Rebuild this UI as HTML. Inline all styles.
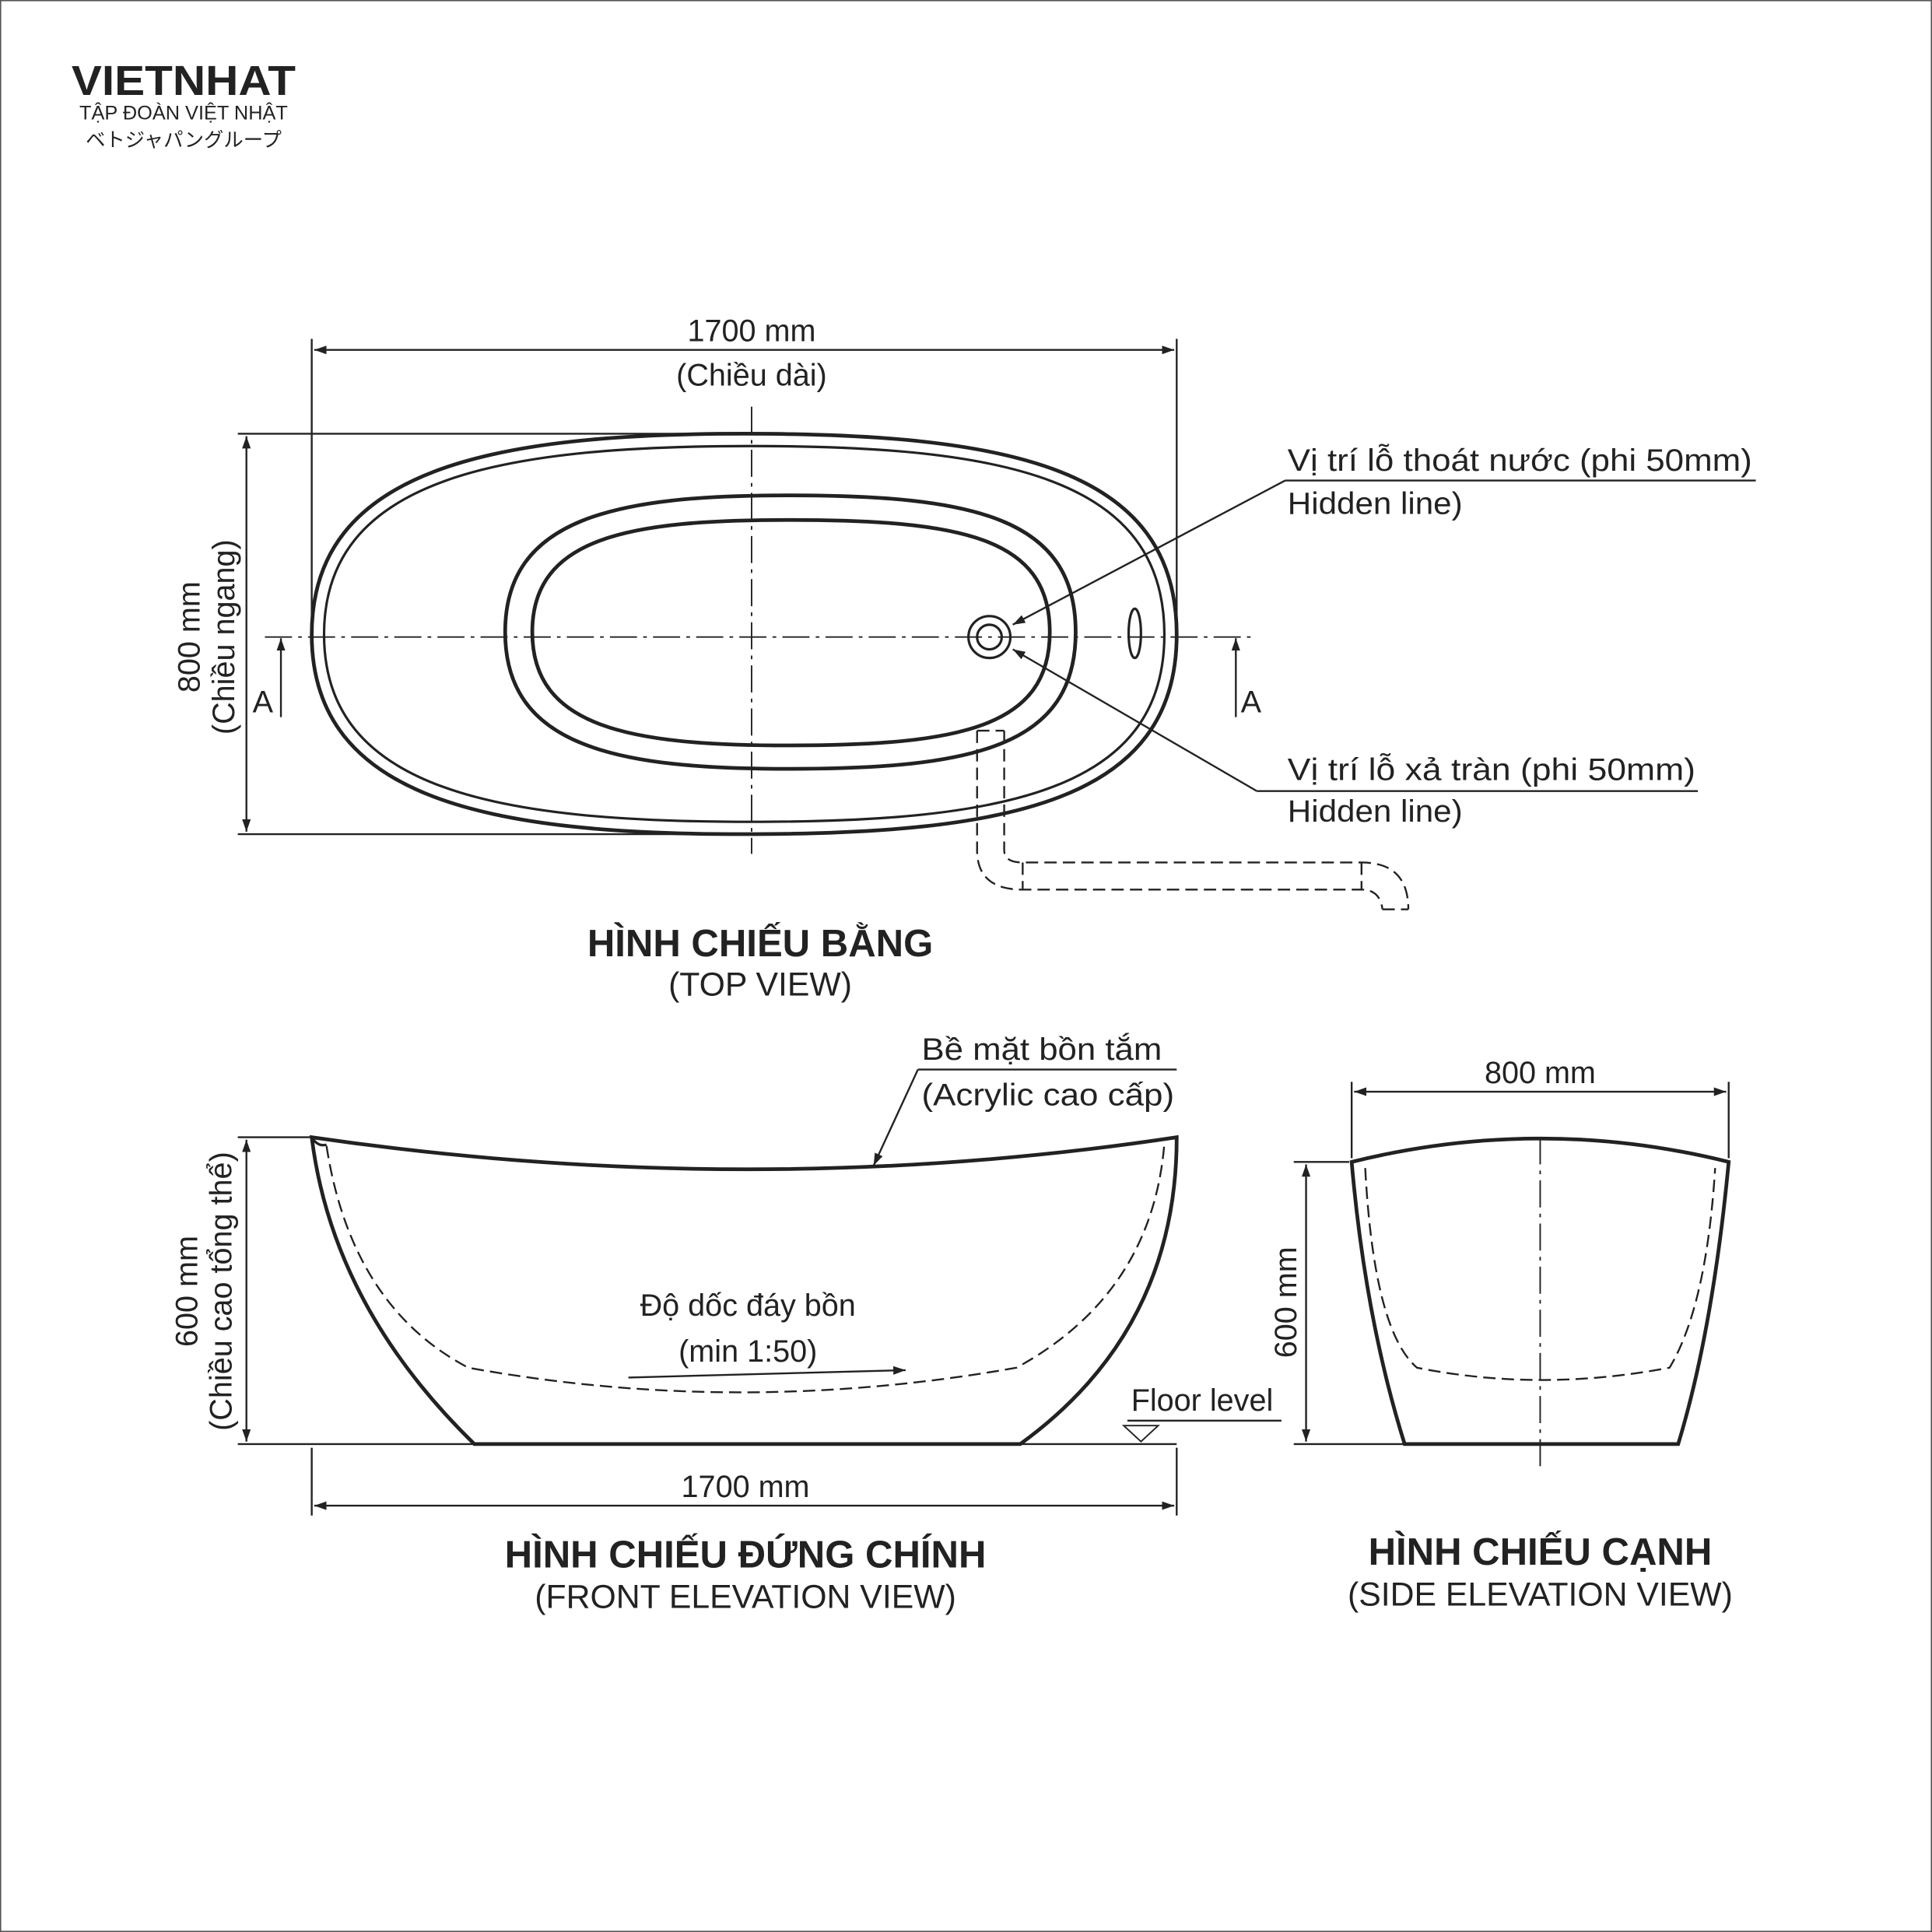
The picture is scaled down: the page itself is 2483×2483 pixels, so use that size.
<!DOCTYPE html>
<html><head><meta charset="utf-8"><style>
html,body{margin:0;padding:0;background:#fff}
svg{display:block}
text{font-family:"Liberation Sans Narrow","Liberation Sans","Noto Sans CJK JP",sans-serif;fill:#222}
</style></head><body>
<svg width="2483" height="2483" viewBox="0 0 1568 1568" xmlns="http://www.w3.org/2000/svg">
<defs>
<marker id="ar" viewBox="0 0 10 10" refX="10" refY="5" markerWidth="10" markerHeight="10" orient="auto-start-reverse" markerUnits="userSpaceOnUse"><path d="M0,1.5 L10,5 L0,8.5 z" fill="#222"/></marker>
</defs>
<rect x="0.5" y="0.5" width="1567" height="1567" fill="#fff" stroke="#555" stroke-width="1"/>
<!-- logo -->
<text x="58" y="77" font-weight="bold" font-size="34" style="font-family:'Liberation Sans',sans-serif" textLength="182" lengthAdjust="spacingAndGlyphs">VIETNHAT</text>
<text x="149" y="97" font-size="16" text-anchor="middle" style="font-family:'Liberation Sans',sans-serif">TẬP ĐOÀN VIỆT NHẬT</text>
<text x="149" y="119" font-size="16" text-anchor="middle" style="font-family:'Liberation Sans','Noto Sans CJK JP',sans-serif">ベトジャパングループ</text>

<g stroke="#222" fill="none" stroke-width="1.5">
<!-- TOP VIEW -->
<line x1="253" y1="275" x2="253" y2="520"/><line x1="955" y1="275" x2="955" y2="520"/>
<line x1="255" y1="284" x2="953" y2="284" marker-start="url(#ar)" marker-end="url(#ar)"/>
<line x1="193" y1="352" x2="610" y2="352"/><line x1="193" y1="677" x2="610" y2="677"/>
<line x1="200" y1="354" x2="200" y2="675" marker-start="url(#ar)" marker-end="url(#ar)"/>
<path d="M604,352 C820,352 955,380 955,515 C955,650 820,677 604,677 C400,677 253,650 253,515 C253,380 400,352 604,352 Z" stroke-width="3"/>
<path d="M610,362 C815,362 945,388 945,515 C945,642 815,667 610,667 C405,667 263,642 263,515 C263,388 405,362 610,362 Z" stroke-width="2"/>
<path d="M640,402 C790,402 873,420 873,513 C873,606 790,624 640,624 C500,624 410,606 410,513 C410,420 500,402 640,402 Z" stroke-width="3"/>
<path d="M640,422 C780,422 852,436 852,513 C852,590 780,605 640,605 C510,605 432,590 432,513 C432,436 510,422 640,422 Z" stroke-width="3"/>
<line x1="215" y1="517" x2="1015" y2="517" stroke-dasharray="22,5,3,5" stroke-width="1.2"/>
<line x1="610" y1="330" x2="610" y2="693" stroke-dasharray="22,5,3,5" stroke-width="1.2"/>
<circle cx="803" cy="517" r="17" stroke-width="2"/><circle cx="803" cy="517" r="10" stroke-width="2"/>
<ellipse cx="921" cy="514" rx="5" ry="20" stroke-width="2"/>
<line x1="228" y1="582" x2="228" y2="518" marker-end="url(#ar)"/>
<line x1="1003" y1="582" x2="1003" y2="518" marker-end="url(#ar)"/>
<line x1="1043" y1="390" x2="822" y2="507" marker-end="url(#ar)"/><line x1="1043" y1="390" x2="1425" y2="390"/>
<line x1="1020" y1="642" x2="822" y2="527" marker-end="url(#ar)"/><line x1="1020" y1="642" x2="1378" y2="642"/>
<g stroke-dasharray="10,5" stroke-width="1.5">
<path d="M793,593 L793,690 Q793,722 830,722 L1105,722 Q1120,722 1122,738"/>
<path d="M815,593 L815,690 Q815,700 830,700 L1105,700 Q1143,700 1143,738"/>
<path d="M793,593 L815,593 M830,700 L830,722 M1105,700 L1105,722 M1122,738 L1143,738"/>
</g>

<!-- FRONT VIEW -->
<line x1="193" y1="923" x2="253" y2="923"/>
<line x1="193" y1="1172" x2="955" y2="1172"/>
<line x1="200" y1="925" x2="200" y2="1170" marker-start="url(#ar)" marker-end="url(#ar)"/>
<line x1="253" y1="1175" x2="253" y2="1230"/><line x1="955" y1="1175" x2="955" y2="1230"/>
<line x1="255" y1="1222" x2="953" y2="1222" marker-start="url(#ar)" marker-end="url(#ar)"/>
<path d="M253,923 Q610,975 955,923 Q955,1080 828,1172 L385,1172 Q270,1060 253,923 Z" stroke-width="3"/>
<path d="M253,923 Q258,931 265,929" stroke-width="2"/>
<path d="M265,930 Q285,1060 380,1110 Q600,1150 825,1110 Q935,1050 945,928" stroke-dasharray="10,5" stroke-width="1.5"/>
<line x1="745" y1="868" x2="955" y2="868"/><line x1="745" y1="868" x2="709" y2="946" marker-end="url(#ar)"/>
<line x1="510" y1="1118" x2="735" y2="1112" marker-end="url(#ar)"/>
<line x1="915" y1="1153" x2="1040" y2="1153"/>
<path d="M912,1157 L940,1157 L926,1170 Z" stroke-width="1.2"/>

<!-- SIDE VIEW -->
<line x1="1097" y1="878" x2="1097" y2="940"/><line x1="1403" y1="878" x2="1403" y2="940"/>
<line x1="1099" y1="886" x2="1401" y2="886" marker-start="url(#ar)" marker-end="url(#ar)"/>
<line x1="1050" y1="943" x2="1095" y2="943"/><line x1="1050" y1="1172" x2="1140" y2="1172"/>
<line x1="1060" y1="945" x2="1060" y2="1170" marker-start="url(#ar)" marker-end="url(#ar)"/>
<path d="M1097,943 Q1250,905 1403,943 Q1390,1080 1362,1172 L1140,1172 Q1108,1070 1097,943 Z" stroke-width="3"/>
<path d="M1108,948 Q1115,1080 1150,1110 Q1250,1130 1355,1110 Q1385,1060 1392,948" stroke-dasharray="10,5" stroke-width="1.5"/>
<line x1="1250" y1="923" x2="1250" y2="1190" stroke-dasharray="22,5,3,5" stroke-width="1.2"/>
</g>

<!-- TEXT -->
<g font-size="25">
<text x="610" y="277" text-anchor="middle">1700 mm</text>
<text x="610" y="313" text-anchor="middle">(Chiều dài)</text>
<text transform="translate(162,517) rotate(-90)" text-anchor="middle">800 mm</text>
<text transform="translate(190,517) rotate(-90)" text-anchor="middle">(Chiều ngang)</text>
<text x="205" y="578">A</text><text x="1007" y="578">A</text>
<text x="1045" y="382" textLength="377" lengthAdjust="spacingAndGlyphs">Vị trí lỗ thoát nước (phi 50mm)</text>
<text x="1045" y="417" textLength="142" lengthAdjust="spacingAndGlyphs">Hidden line)</text>
<text x="1045" y="633" textLength="331" lengthAdjust="spacingAndGlyphs">Vị trí lỗ xả tràn (phi 50mm)</text>
<text x="1045" y="667" textLength="142" lengthAdjust="spacingAndGlyphs">Hidden line)</text>
<text x="617" y="776" text-anchor="middle" font-weight="bold" font-size="31">HÌNH CHIẾU BẰNG</text>
<text x="617" y="808" text-anchor="middle" font-size="27">(TOP VIEW)</text>
<text x="748" y="860" textLength="195" lengthAdjust="spacingAndGlyphs">Bề mặt bồn tắm</text>
<text x="748" y="897" textLength="205" lengthAdjust="spacingAndGlyphs">(Acrylic cao cấp)</text>
<text transform="translate(160,1048) rotate(-90)" text-anchor="middle">600 mm</text>
<text transform="translate(188,1048) rotate(-90)" text-anchor="middle">(Chiều cao tổng thể)</text>
<text x="607" y="1068" text-anchor="middle">Độ dốc đáy bồn</text>
<text x="607" y="1105" text-anchor="middle">(min 1:50)</text>
<text x="918" y="1145">Floor level</text>
<text x="605" y="1215" text-anchor="middle">1700 mm</text>
<text x="605" y="1272" text-anchor="middle" font-weight="bold" font-size="31">HÌNH CHIẾU ĐỨNG CHÍNH</text>
<text x="605" y="1305" text-anchor="middle" font-size="27">(FRONT ELEVATION VIEW)</text>
<text x="1250" y="879" text-anchor="middle">800 mm</text>
<text transform="translate(1052,1057) rotate(-90)" text-anchor="middle">600 mm</text>
<text x="1250" y="1270" text-anchor="middle" font-weight="bold" font-size="31">HÌNH CHIẾU CẠNH</text>
<text x="1250" y="1303" text-anchor="middle" font-size="27">(SIDE ELEVATION VIEW)</text>
</g>
</svg>
</body></html>
